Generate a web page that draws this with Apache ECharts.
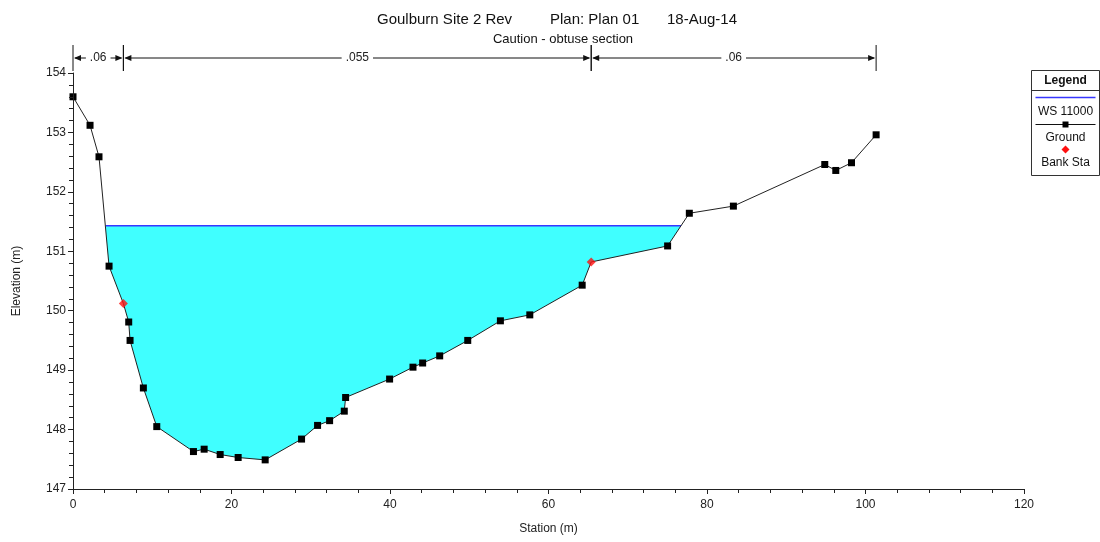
<!DOCTYPE html>
<html>
<head>
<meta charset="utf-8">
<script src="https://cdn.jsdelivr.net/npm/echarts@6/dist/echarts.min.js"></script>
<style>
  html, body { margin: 0; padding: 0; background: #fff; }
  #chart { width: 1100px; height: 542px; }
</style>
</head>
<body>
<div id="chart"></div>
<script>
// ground survey points (station m, elevation m)
const stations = [0, 2.15, 3.28, 4.55, 6.36, 7.03, 7.2, 8.88, 10.57, 15.2, 16.55, 18.57, 20.84, 24.25,
  28.84, 30.86, 32.38, 34.23, 34.4, 39.95, 42.9, 44.12, 46.27, 49.81, 53.93, 57.64, 64.25, 65.39,
  75.03, 77.77, 83.33, 94.86, 96.25, 98.23, 101.34]
const elevations = [153.6, 153.12, 152.59, 150.75, 150.12, 149.81, 149.5, 148.7, 148.05, 147.63, 147.67,
  147.58, 147.53, 147.49, 147.84, 148.07, 148.15, 148.31, 148.54, 148.85, 149.05, 149.12, 149.24, 149.5,
  149.83, 149.93, 150.43, 150.82, 151.09, 151.64, 151.76, 152.46, 152.36, 152.49, 152.96]

// bank stations
const bankStations = [6.36, 65.39]
const bankElevations = [150.12, 150.82]

// water surface WS 11000
const wsStations = [4.1, 76.8]
const wsElevation = 151.43

// manning's n regions
const nBreaks = [0, 6.36, 65.39, 101.34]
const nValues = ['.06', '.055', '.06']

const FONT = 'Liberation Sans, Arial, sans-serif'
const chart = echarts.init(document.getElementById('chart'))

const groundData = stations.map((s, i) => {
  const isBank = bankStations.includes(s)
  return isBank ? { value: [s, elevations[i]], symbol: 'none' } : [s, elevations[i]]
})

const nData = nValues.map((v, i) => [nBreaks[i], nBreaks[i + 1]])

function renderN(params, api) {
  const p0 = api.coord([api.value(0), 0.5])
  const p1 = api.coord([api.value(1), 0.5])
  const top = api.coord([0, 1])[1]
  const bot = api.coord([0, 0])[1]
  const y = p0[1]
  const stroke = { stroke: '#111', lineWidth: 1 }
  return {
    type: 'group',
    children: [
      { type: 'line', shape: { x1: p0[0], y1: top, x2: p0[0], y2: bot }, style: stroke },
      { type: 'line', shape: { x1: p1[0], y1: top, x2: p1[0], y2: bot }, style: stroke },
      { type: 'line', shape: { x1: p0[0] + 2, y1: y, x2: p1[0] - 2, y2: y }, style: stroke },
      { type: 'polygon', shape: { points: [[p0[0] + 1, y], [p0[0] + 8, y - 3], [p0[0] + 8, y + 3]] }, style: { fill: '#111' } },
      { type: 'polygon', shape: { points: [[p1[0] - 1, y], [p1[0] - 8, y - 3], [p1[0] - 8, y + 3]] }, style: { fill: '#111' } },
      {
        type: 'text',
        x: (p0[0] + p1[0]) / 2, y: y,
        style: {
          text: nValues[params.dataIndex], align: 'center', verticalAlign: 'middle',
          font: '12px ' + FONT, fill: '#222', backgroundColor: '#fff', padding: [0, 4]
        }
      }
    ]
  }
}

const titleStyle = { fontFamily: FONT, fontSize: 15, fontWeight: 'normal', color: '#111' }
const legendX = 1029, legendY = 70
chart.setOption({
  animation: false,
  backgroundColor: '#fff',
  title: [
    { text: 'Goulburn Site 2 Rev', left: 372, top: 7, textStyle: titleStyle },
    { text: 'Plan: Plan 01', left: 545, top: 7, textStyle: titleStyle },
    { text: '18-Aug-14', left: 662, top: 7, textStyle: titleStyle },
    {
      text: 'Caution - obtuse section',
      left: 558, top: 28, textAlign: 'center',
      textStyle: { fontFamily: FONT, fontSize: 13, fontWeight: 'normal', color: '#111' }
    }
  ],
  grid: [
    { left: 73, right: 76, top: 73, bottom: 53 },
    { left: 73, right: 76, top: 45, height: 26 }
  ],
  xAxis: [
    {
      type: 'value', min: 0, max: 120, interval: 20, z: 5,
      name: 'Station (m)', nameLocation: 'middle', nameGap: 34,
      nameTextStyle: { fontFamily: FONT, fontSize: 12, color: '#222' },
      axisLine: { lineStyle: { color: '#222', width: 1 } },
      axisTick: { length: 5, lineStyle: { color: '#222' } },
      minorTick: { show: true, splitNumber: 5, length: 4, lineStyle: { color: '#222' } },
      axisLabel: { fontFamily: FONT, fontSize: 12, color: '#222', margin: 10 },
      splitLine: { show: false }
    },
    { type: 'value', gridIndex: 1, min: 0, max: 120, show: false }
  ],
  yAxis: [
    {
      type: 'value', min: 147, max: 154, interval: 1, z: 5,
      name: 'Elevation (m)', nameLocation: 'middle', nameGap: 50,
      nameTextStyle: { fontFamily: FONT, fontSize: 12, color: '#222' },
      axisLine: { show: true, lineStyle: { color: '#222', width: 1 } },
      axisTick: { show: true, length: 5, lineStyle: { color: '#222' } },
      minorTick: { show: true, splitNumber: 5, length: 4, lineStyle: { color: '#222' } },
      axisLabel: { fontFamily: FONT, fontSize: 12, color: '#222', margin: 7 },
      splitLine: { show: false }
    },
    { type: 'value', gridIndex: 1, min: 0, max: 1, show: false }
  ],
  series: [
    {
      name: 'WS 11000', type: 'line', z: 2,
      data: wsStations.map((s) => [s, wsElevation]),
      symbol: 'none',
      lineStyle: { color: '#3636ff', width: 1.5 },
      areaStyle: { color: '#40ffff', opacity: 1, origin: 'start' }
    },
    {
      name: 'Ground', type: 'line', z: 3,
      data: groundData,
      symbol: 'rect', symbolSize: 7,
      itemStyle: { color: '#000' },
      lineStyle: { color: '#222', width: 1 },
      areaStyle: { color: '#fff', opacity: 1, origin: 'start' }
    },
    {
      name: 'Bank Sta', type: 'scatter', z: 4,
      data: bankStations.map((s, i) => [s, bankElevations[i]]),
      symbol: 'diamond', symbolSize: 9,
      itemStyle: { color: '#ff1010' }
    },
    {
      type: 'custom', xAxisIndex: 1, yAxisIndex: 1, clip: false,
      data: nData, renderItem: renderN, silent: true
    }
  ],
  graphic: [
    {
      type: 'group', left: legendX, top: legendY,
      children: [
        { type: 'rect', shape: { x: 0, y: 0, width: 68, height: 105 }, style: { fill: '#fff', stroke: '#333', lineWidth: 1 } },
        { type: 'text', x: 34, y: 10, style: { text: 'Legend', font: 'bold 12px ' + FONT, fill: '#111', align: 'center', verticalAlign: 'middle' } },
        { type: 'line', shape: { x1: 0, y1: 20, x2: 68, y2: 20 }, style: { stroke: '#333', lineWidth: 1 } },
        { type: 'line', shape: { x1: 4, y1: 27, x2: 64, y2: 27 }, style: { stroke: '#3636ff', lineWidth: 1.5 } },
        { type: 'text', x: 34, y: 41, style: { text: 'WS 11000', font: '12px ' + FONT, fill: '#111', align: 'center', verticalAlign: 'middle' } },
        { type: 'line', shape: { x1: 4, y1: 54, x2: 64, y2: 54 }, style: { stroke: '#111', lineWidth: 1 } },
        { type: 'rect', shape: { x: 31, y: 51, width: 6, height: 6 }, style: { fill: '#000' } },
        { type: 'text', x: 34, y: 67, style: { text: 'Ground', font: '12px ' + FONT, fill: '#111', align: 'center', verticalAlign: 'middle' } },
        { type: 'polygon', shape: { points: [[34, 75], [38, 79], [34, 83], [30, 79]] }, style: { fill: '#ff1010' } },
        { type: 'text', x: 34, y: 92, style: { text: 'Bank Sta', font: '12px ' + FONT, fill: '#111', align: 'center', verticalAlign: 'middle' } }
      ]
    }
  ]
})
</script>
</body>
</html>
